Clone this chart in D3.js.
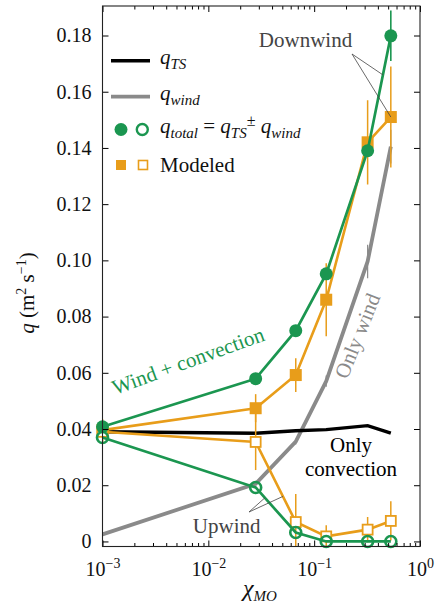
<!DOCTYPE html>
<html>
<head>
<meta charset="utf-8">
<script src="https://cdn.jsdelivr.net/npm/d3@7"></script>
<style>
  body { margin: 0; background: #fff; }
  text { font-family: "Liberation Serif", "Times New Roman", serif; }
</style>
</head>
<body>
<script>
/* Datos */
const chiMO = [0.001, 0.028, 0.067, 0.13, 0.32, 0.53];

const qTS = [0.0390, 0.0385, 0.0394, 0.0398, 0.0412, 0.0385];
const qWind = [0.0025, 0.0205, 0.0355, 0.0570, 0.0996, 0.1405];
const qWindErr = [0, 0.0005, 0.001, 0.002, 0.006, 0.006];

const totalDown = [0.0408, 0.0579, 0.0750, 0.0952, 0.1390, 0.1799];
const totalDownErr = [0, 0, 0, 0, 0, 0.009];
const totalUp = [0.0370, 0.0192, 0.0032, 0, 0, 0];

const modDown = [0.0396, 0.0474, 0.0592, 0.0860, 0.1420, 0.1510];
const modDownErr = [0.004, 0.005, 0.006, 0.013, 0.015, 0.018];
const modUp = [0.0390, 0.0354, 0.0069, 0.0018, 0.0042, 0.0073];
const modUpErr = [0.004, 0.010, 0.010, 0.004, 0.0045, 0.007];

const yTicks = [0, 0.02, 0.04, 0.06, 0.08, 0.10, 0.12, 0.14, 0.16, 0.18];
const xTicks = [1e-3, 1e-2, 1e-1, 1];
const xTickExp = ["\u22123", "\u22122", "\u22121", "0"];

let width = 439;
let height = 607;
let margin = { top: 6, bottom: 60.5, left: 102.5, right: 19 };

const verde = "#1b9650";
const naranja = "#e89d1a";
const gris = "#8a8a8a";
const oscuro = "#444";

/* Escalas */
let escalaX = d3.scaleLog()
    .domain([1e-3, 1])
    .range([margin.left, width - margin.right]);

let escalaY = d3.scaleLinear()
    .domain([-0.0018, 0.1905])
    .range([height - margin.bottom, margin.top]);

let svg = d3.select("body")
    .append("svg")
    .attr("width", width)
    .attr("height", height);

svg.append("clipPath").attr("id", "area")
    .append("rect")
    .attr("x", margin.left).attr("y", margin.top)
    .attr("width", width - margin.left - margin.right)
    .attr("height", height - margin.top - margin.bottom);

function serie(vals, errs) {
    return chiMO.map((x, i) => ({ x: x, y: vals[i], e: errs ? errs[i] : 0 }));
}

let linea = d3.line()
    .x(d => escalaX(d.x))
    .y(d => escalaY(d.y));

function pintarLinea(datos, color, grosor) {
    svg.append("path")
        .datum(datos)
        .attr("d", linea)
        .attr("fill", "none")
        .attr("stroke", color)
        .attr("stroke-width", grosor)
        .attr("stroke-linejoin", "miter");
}

function pintarErrores(datos, color, grosor) {
    svg.append("g")
        .attr("clip-path", "url(#area)")
        .selectAll("line")
        .data(datos.filter(d => d.e > 0))
        .join("line")
        .attr("x1", d => escalaX(d.x))
        .attr("x2", d => escalaX(d.x))
        .attr("y1", d => escalaY(d.y - d.e))
        .attr("y2", d => escalaY(d.y + d.e))
        .attr("stroke", color)
        .attr("stroke-width", grosor);
}

/* q_wind (gris) y q_TS (negro) */
let datosWind = serie(qWind, qWindErr);
pintarLinea(datosWind, gris, 3.8);
pintarErrores(datosWind, gris, 1.2);
pintarLinea(serie(qTS), "#000", 3.4);

/* Modelado (naranja) */
let datosModDown = serie(modDown, modDownErr);
let datosModUp = serie(modUp, modUpErr);
pintarLinea(datosModDown, naranja, 2.6);
pintarLinea(datosModUp, naranja, 2.6);
pintarErrores(datosModDown, naranja, 1.5);
pintarErrores(datosModUp, naranja, 1.5);

svg.append("g").selectAll("rect")
    .data(datosModDown)
    .join("rect")
    .attr("x", d => escalaX(d.x) - 6)
    .attr("y", d => escalaY(d.y) - 6)
    .attr("width", 12).attr("height", 12)
    .attr("fill", naranja);

svg.append("g").selectAll("rect")
    .data(datosModUp)
    .join("rect")
    .attr("x", d => escalaX(d.x) - 5)
    .attr("y", d => escalaY(d.y) - 5)
    .attr("width", 10).attr("height", 10)
    .attr("fill", "#fff")
    .attr("stroke", naranja)
    .attr("stroke-width", 1.8);

/* Total (verde) */
let datosDown = serie(totalDown, totalDownErr);
let datosUp = serie(totalUp);
pintarLinea(datosDown, verde, 2.7);
pintarLinea(datosUp, verde, 2.7);
pintarErrores(datosDown, verde, 1.6);

svg.append("g").selectAll("circle")
    .data(datosDown)
    .join("circle")
    .attr("cx", d => escalaX(d.x))
    .attr("cy", d => escalaY(d.y))
    .attr("r", 6.5)
    .attr("fill", verde);

svg.append("g").selectAll("circle")
    .data(datosUp)
    .join("circle")
    .attr("cx", d => escalaX(d.x))
    .attr("cy", d => escalaY(d.y))
    .attr("r", 5.5)
    .attr("fill", "none")
    .attr("stroke", verde)
    .attr("stroke-width", 2.6);

/* Ejes */
let ejeY = d3.axisLeft(escalaY)
    .tickValues(yTicks)
    .tickSize(-6)
    .tickSizeOuter(0)
    .tickPadding(11)
    .tickFormat(d => d === 0 ? "0" : d3.format(".2f")(d));

svg.append("g")
    .attr("transform", "translate(" + margin.left + ",0)")
    .call(ejeY)
    .call(g => g.select(".domain").remove())
    .call(g => g.selectAll("text").attr("font-size", 20).attr("font-family", "Liberation Serif").attr("fill", "#111"));

svg.append("g")
    .attr("transform", "translate(" + (width - margin.right) + ",0)")
    .call(d3.axisRight(escalaY).tickValues(yTicks).tickSize(-6).tickSizeOuter(0).tickFormat(""))
    .call(g => g.select(".domain").remove());

let menores = escalaX.ticks().filter(t => xTicks.indexOf(t) < 0);

[height - margin.bottom, margin.top].forEach(function (yy, k) {
    let eje = k === 0 ? d3.axisBottom : d3.axisTop;
    svg.append("g")
        .attr("transform", "translate(0," + yy + ")")
        .call(eje(escalaX).tickValues(menores).tickSize(-3.5).tickSizeOuter(0).tickFormat(""))
        .call(g => g.select(".domain").remove());
    let gMayor = svg.append("g")
        .attr("transform", "translate(0," + yy + ")")
        .call(eje(escalaX).tickValues(xTicks).tickSize(-6).tickSizeOuter(0).tickFormat(""))
        .call(g => g.select(".domain").remove());
    if (k === 0) {
        gMayor.selectAll(".tick text")
            .attr("y", 29)
            .attr("dy", null)
            .attr("font-size", 20)
            .attr("font-family", "Liberation Serif")
            .attr("fill", "#111")
            .each(function (d, i) {
                let t = d3.select(this);
                t.append("tspan").text("10");
                t.append("tspan").attr("dy", -8).attr("font-size", 14).text(xTickExp[i]);
            });
    }
});

/* Marco */
svg.append("rect")
    .attr("x", margin.left).attr("y", margin.top)
    .attr("width", width - margin.left - margin.right)
    .attr("height", height - margin.top - margin.bottom)
    .attr("fill", "none")
    .attr("stroke", "#222")
    .attr("stroke-width", 1.1);

/* Texto con subindices */
function textoMat(x, y, partes, tam) {
    let t = svg.append("text").attr("x", x).attr("y", y).attr("font-size", tam).attr("fill", "#111");
    let off = 0;
    partes.forEach(function (p) {
        let objetivo = p.sub ? 5 : (p.sup ? -7 : 0);
        let s = t.append("tspan")
            .attr("dy", objetivo - off)
            .text(p.t);
        off = objetivo;
        if (p.i) s.attr("font-style", "italic");
        if (p.sub) s.attr("font-size", 15);
        if (p.sup) s.attr("font-size", 16);
    });
    return t;
}

/* Leyenda */
svg.append("line").attr("x1", 111).attr("x2", 150).attr("y1", 60.7).attr("y2", 60.7)
    .attr("stroke", "#000").attr("stroke-width", 3.6);
svg.append("line").attr("x1", 111).attr("x2", 150).attr("y1", 96.7).attr("y2", 96.7)
    .attr("stroke", gris).attr("stroke-width", 3.8);
svg.append("circle").attr("cx", 121).attr("cy", 129.5).attr("r", 6.5).attr("fill", verde);
svg.append("circle").attr("cx", 142.3).attr("cy", 129.5).attr("r", 5.5).attr("fill", "none")
    .attr("stroke", verde).attr("stroke-width", 2.4);
svg.append("rect").attr("x", 116).attr("y", 160).attr("width", 10).attr("height", 10).attr("fill", naranja);
svg.append("rect").attr("x", 138.5).attr("y", 160.5).attr("width", 9).attr("height", 9)
    .attr("fill", "#fff").attr("stroke", naranja).attr("stroke-width", 1.6);

textoMat(160, 64, [{ t: "q", i: true }, { t: "TS", i: true, sub: true }], 21);
textoMat(160, 100, [{ t: "q", i: true }, { t: "wind", i: true, sub: true }], 21);
textoMat(160, 133, [
    { t: "q", i: true }, { t: "total", i: true, sub: true },
    { t: " = " }, { t: "q", i: true }, { t: "TS", i: true, sub: true },
    { t: "\u00b1", sup: true }, { t: " q", i: true }, { t: "wind", i: true, sub: true }
], 21);
textoMat(160, 172, [{ t: "Modeled" }], 21);

/* Etiquetas de ejes */
svg.append("text")
    .attr("transform", "translate(34,293) rotate(-90)")
    .attr("text-anchor", "middle")
    .attr("font-size", 21)
    .attr("fill", "#111")
    .call(function (t) {
        t.append("tspan").attr("font-style", "italic").text("q");
        t.append("tspan").text(" (m");
        t.append("tspan").attr("dy", -8).attr("font-size", 14).text("2");
        t.append("tspan").attr("dy", 8).text(" s");
        t.append("tspan").attr("dy", -8).attr("font-size", 14).text("\u22121");
        t.append("tspan").attr("dy", 8).text(")");
    });

textoMat(0, 596, [{ t: "\u03c7", i: true }, { t: "MO", i: true, sub: true }], 24)
    .attr("x", 260).attr("text-anchor", "middle");

/* Anotaciones */
function puntoEn(datos, i, t) {
    let a = datos[i], b = datos[i + 1];
    return [
        escalaX(a.x) + t * (escalaX(b.x) - escalaX(a.x)),
        escalaY(a.y) + t * (escalaY(b.y) - escalaY(a.y))
    ];
}

function guia(desde, hasta) {
    svg.append("line")
        .attr("x1", desde[0]).attr("y1", desde[1])
        .attr("x2", hasta[0]).attr("y2", hasta[1])
        .attr("stroke", oscuro).attr("stroke-width", 0.8);
}

svg.append("text").attr("x", 305.5).attr("y", 47).attr("text-anchor", "middle")
    .attr("font-size", 21).attr("fill", oscuro).text("Downwind");
guia([352, 54], puntoEn(datosDown, 4, 0.66));
guia([352, 54], puntoEn(datosModDown, 4, 1));

svg.append("text").attr("x", 226.7).attr("y", 533).attr("text-anchor", "middle")
    .attr("font-size", 21).attr("fill", oscuro).text("Upwind");
guia([249, 512], puntoEn(datosModUp, 1, 0.68));
guia([249, 512], puntoEn(datosUp, 1, 0.23));

svg.append("text").attr("x", 351).attr("y", 452).attr("text-anchor", "middle")
    .attr("font-size", 21).attr("fill", "#000").text("Only");
svg.append("text").attr("x", 351).attr("y", 476).attr("text-anchor", "middle")
    .attr("font-size", 21).attr("fill", "#000").text("convection");

svg.append("text")
    .attr("transform", "translate(190.5,367.5) rotate(-20)")
    .attr("text-anchor", "middle")
    .attr("font-size", 21).attr("fill", verde).text("Wind + convection");

svg.append("text")
    .attr("transform", "translate(364,338.5) rotate(-68)")
    .attr("text-anchor", "middle")
    .attr("font-size", 21).attr("fill", gris).text("Only wind");
</script>
</body>
</html>
